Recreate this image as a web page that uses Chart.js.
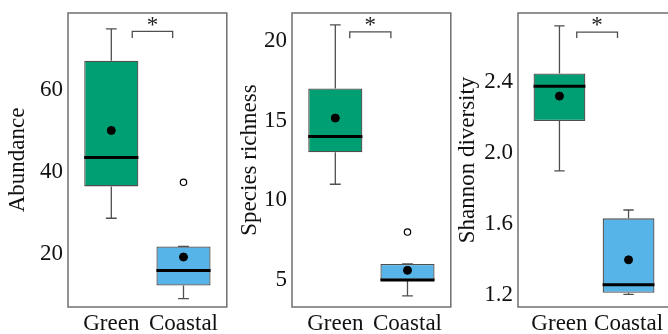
<!DOCTYPE html>
<html>
<head>
<meta charset="utf-8">
<script src="https://cdn.jsdelivr.net/npm/chart.js@4"></script>
<style>
  html, body { margin: 0; padding: 0; background: #fff; overflow: hidden; width: 668px; height: 334px; }
  canvas { position: absolute; top: 0; }
</style>
</head>
<body>
<canvas id="abundance" width="232" height="334" style="left:0px"></canvas>
<canvas id="richness" width="224" height="334" style="left:232px"></canvas>
<canvas id="shannon" width="226" height="334" style="left:450px"></canvas>
<script>
const groups = ["Green", "Coastal"];

// each box: min, q1, median, q3, max
const abundanceBox = [[28.7, 36.5, 43.6, 67.3, 75.1], [9.0, 12.2, 15.9, 21.8, 21.8]];
const abundanceMean = [50.2, 19.2];
const abundanceOut = [[], [37.5]];
const abundanceTicks = [20, 40, 60];
const abundanceRange = [6.96, 78.97];
const abundanceSig = [1.29, 1.85, 72.85, 74.46, 76.7]; // x from, x to, tip, bar, star

const richnessBox = [[11, 13, 14, 17, 21], [4, 5, 5, 6, 6]];
const richnessMean = [15.15, 5.6];
const richnessOut = [[], [8]];
const richnessTicks = [5, 10, 15, 20];
const richnessRange = [3.3, 21.74];
const richnessSig = [1.2, 1.77, 20.15, 20.56, 21.14];

const shannonBox = [[1.90, 2.18, 2.376, 2.447, 2.715], [1.206, 1.215, 1.26, 1.633, 1.68]];
const shannonMean = [2.32, 1.40];
const shannonOut = [[], []];
const shannonTicks = [1.2, 1.6, 2.0, 2.4];
const shannonRange = [1.135, 2.787];
const shannonSig = [1.25, 1.84, 2.646, 2.680, 2.735];

const fills = ["#009E73", "#56B4E9"];
const edge = "#4f4f4f";
const serif = "'Liberation Serif', 'Times New Roman', serif";

const framePlugin = {
  id: "frame",
  afterDraw(chart) {
    const ctx = chart.ctx;
    const a = chart.chartArea;
    const sig = chart.options.sig;
    ctx.save();
    ctx.strokeStyle = "#707070";
    ctx.lineWidth = 1.5;
    ctx.strokeRect(a.left, a.top, a.right - a.left, a.bottom - a.top);
    ctx.fillStyle = "#222";
    ctx.font = "23px " + serif;
    ctx.textAlign = "center";
    ctx.textBaseline = "alphabetic";
    const sx = chart.scales.x.getPixelForValue((sig[0] + sig[1]) / 2);
    const sy = chart.scales.y.getPixelForValue(sig[4]);
    ctx.fillText("*", sx, sy + 9.5);
    ctx.restore();
  }
};

function makePanel(id, title, box, mean, out, ticks, range, sig, opts) {
  const capHalf = 0.075, boxHalf = 0.375;
  const whisk = [], med = [], means = [], outs = [];
  box.forEach((b, i) => {
    const x = i + 1;
    whisk.push({x, y: b[0]}, {x, y: b[1]}, {x, y: null});
    whisk.push({x, y: b[3]}, {x, y: b[4]}, {x, y: null});
    whisk.push({x: x - capHalf, y: b[0]}, {x: x + capHalf, y: b[0]}, {x, y: null});
    whisk.push({x: x - capHalf, y: b[4]}, {x: x + capHalf, y: b[4]}, {x, y: null});
    med.push({x: x - boxHalf, y: b[2]}, {x: x + boxHalf, y: b[2]}, {x, y: null});
    means.push({x, y: mean[i]});
    out[i].forEach(v => outs.push({x, y: v}));
  });
  const bracket = [
    {x: sig[0], y: sig[2]}, {x: sig[0], y: sig[3]},
    {x: sig[1], y: sig[3]}, {x: sig[1], y: sig[2]}
  ];

  return new Chart(document.getElementById(id), {
    type: "bar",
    data: {
      datasets: [
        {
          type: "bar",
          data: box.map((b, i) => ({x: i + 1, y: [b[1], b[3]]})),
          backgroundColor: fills,
          borderColor: edge,
          borderWidth: 1.3,
          borderSkipped: false,
          barPercentage: 0.75,
          categoryPercentage: 1,
          order: 5
        },
        {type: "line", data: whisk, borderColor: edge, borderWidth: 1.3, pointRadius: 0, spanGaps: false, order: 6},
        {type: "line", data: med, borderColor: "#000", borderWidth: 3, pointRadius: 0, spanGaps: false, order: 3},
        {type: "line", data: bracket, borderColor: edge, borderWidth: 1.3, pointRadius: 0, order: 3},
        {type: "line", data: means, showLine: false, pointRadius: 4, pointBackgroundColor: "#000", pointBorderColor: "#000", order: 1},
        {type: "line", data: outs, showLine: false, pointRadius: 3.2, pointBorderWidth: 1.2, pointBackgroundColor: "#fff", pointBorderColor: "#000", order: 1}
      ]
    },
    options: {
      responsive: false,
      animation: false,
      sig: sig,
      layout: {padding: {top: 13, right: opts.right, left: 0, bottom: 0}},
      plugins: {legend: {display: false}, tooltip: {enabled: false}},
      scales: {
        x: {
          type: "linear",
          offset: false,
          min: 0.4,
          max: 2.6,
          grid: {display: false, drawTicks: false},
          border: {display: false},
          afterBuildTicks: s => { s.ticks = [{value: 1}, {value: 2}]; },
          afterFit: s => { s.height = 27; },
          ticks: {
            callback: v => groups[v - 1],
            font: {family: serif, size: 23, lineHeight: 1.2},
            color: "#111",
            padding: 3,
            autoSkip: false,
            maxRotation: 0
          }
        },
        y: {
          type: "linear",
          min: range[0],
          max: range[1],
          grid: {display: false, drawTicks: false},
          border: {display: false},
          afterBuildTicks: s => { s.ticks = ticks.map(v => ({value: v})); },
          afterFit: s => { s.width = opts.axisWidth; },
          ticks: {
            callback: v => opts.fmt(v),
            font: {family: serif, size: 23, lineHeight: 0.6},
            color: "#111",
            padding: 5
          },
          title: {
            display: true,
            text: title,
            font: {family: serif, size: 23, lineHeight: 1.2},
            color: "#111",
            padding: {top: opts.titlePad, bottom: 0}
          }
        }
      }
    },
    plugins: [framePlugin]
  });
}

makePanel("abundance", "Abundance", abundanceBox, abundanceMean, abundanceOut, abundanceTicks, abundanceRange, abundanceSig,
  {right: 5, axisWidth: 68, titlePad: 4.5, fmt: v => String(v)});
makePanel("richness", "Species richness", richnessBox, richnessMean, richnessOut, richnessTicks, richnessRange, richnessSig,
  {right: 5, axisWidth: 60, titlePad: 4.2, fmt: v => String(v)});
makePanel("shannon", "Shannon diversity", shannonBox, shannonMean, shannonOut, shannonTicks, shannonRange, shannonSig,
  {right: 6, axisWidth: 68, titlePad: 4.5, fmt: v => v.toFixed(1)});
</script>
</body>
</html>
